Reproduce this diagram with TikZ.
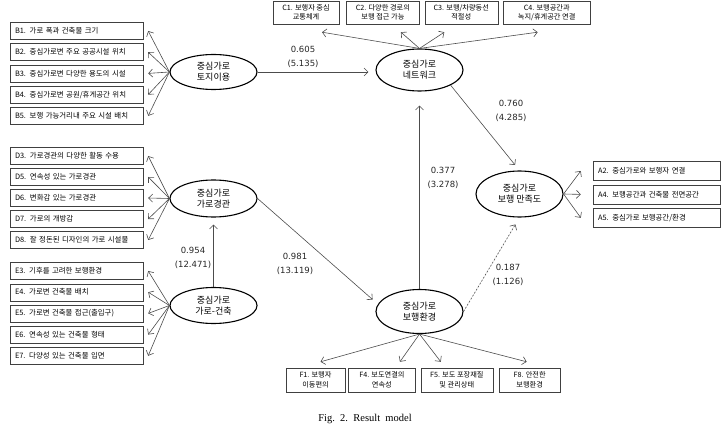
\documentclass[tikz,border=0pt]{standalone}
\usepackage{fontspec}
\setmainfont{Liberation Serif}
\newfontfamily\kr{Noto Sans CJK KR}
\newfontfamily\numfont{DejaVu Sans}
\usetikzlibrary{shapes.geometric, positioning, arrows.meta, calc}
\tikzset{
  latent/.style={ellipse, draw=black, line width=1.1pt, minimum width=87pt, minimum height=38pt, inner sep=0pt, align=center, font=\kr\fontsize{9}{11}\selectfont},
  indic/.style={rectangle, draw=black!75, minimum height=17pt, text width=123pt, inner xsep=5pt, inner ysep=0pt, align=left, font=\kr\fontsize{7.4}{8}\selectfont},
  satindic/.style={indic, text width=117pt, minimum height=19pt},
  twoline/.style={rectangle, draw=black!75, minimum height=23pt, inner xsep=1pt, inner ysep=0pt, align=center, font=\kr\fontsize{7.2}{9.5}\selectfont},
  coef/.style={align=center, font=\numfont\fontsize{8.5}{14}\selectfont, text=black!85},
  arrow/.style={draw=black!70, line width=0.6pt, -{Straight Barb[length=4pt, width=8pt]}}
}

\begin{document}
\begin{tikzpicture}[x=1pt, y=-1pt]
    \useasboundingbox (0,0) rectangle (725,430);

    % 잠재변수
    \node (land)  [latent, minimum height=35pt] at (213.5,72) {중심가로\\토지이용};
    \node (net)   [latent, minimum height=42pt] at (419.5,70) {중심가로\\네트워크};
    \node (scape) [latent, minimum height=37pt] at (213.5,198.5) {중심가로\\가로경관};
    \node (bldg)  [latent, minimum height=36pt] at (213.5,305.5) {중심가로\\가로-건축};
    \node (walk)  [latent, minimum height=44pt] at (419.5,311.5) {중심가로\\보행환경};
    \node (sat)   [latent, minimum height=46pt] at (519.5,194) {중심가로\\보행 만족도};

    % 토지이용 항목
    \node (b1) [indic] at (76.5,31) {B1. 가로 폭과 건축물 크기};
    \node (b2) [indic, below=3.8pt of b1] {B2. 중심가로변 주요 공공시설 위치};
    \node (b3) [indic, below=3.8pt of b2] {B3. 중심가로변 다양한 용도의 시설};
    \node (b4) [indic, below=3.8pt of b3] {B4. 중심가로변 공원/휴게공간 위치};
    \node (b5) [indic, below=3.8pt of b4] {B5. 보행 가능거리내 주요 시설 배치};

    % 가로경관 항목
    \node (d3) [indic] at (76.5,156) {D3. 가로경관의 다양한 활동 수용};
    \node (d5) [indic, below=3.6pt of d3] {D5. 연속성 있는 가로경관};
    \node (d6) [indic, below=3.6pt of d5] {D6. 변화감 있는 가로경관};
    \node (d7) [indic, below=3.6pt of d6] {D7. 가로의 개방감};
    \node (d8) [indic, below=3.6pt of d7] {D8. 잘 정돈된 디자인의 가로 시설물};

    % 가로-건축 항목
    \node (e3) [indic] at (76.5,271) {E3. 기후를 고려한 보행환경};
    \node (e4) [indic, below=3.8pt of e3] {E4. 가로변 건축물 배치};
    \node (e5) [indic, below=3.8pt of e4] {E5. 가로변 건축물 접근(출입구)};
    \node (e6) [indic, below=3.8pt of e5] {E6. 연속성 있는 건축물 형태};
    \node (e7) [indic, below=3.8pt of e6] {E7. 다양성 있는 건축물 입면};

    % 네트워크 항목
    \node (c1) [twoline, minimum width=66pt] at (306,12.5) {C1. 보행자 중심\\교통체계};
    \node (c2) [twoline, minimum width=73pt, right=7pt of c1] {C2. 다양한 경로의\\보행 접근 가능};
    \node (c3) [twoline, minimum width=73pt, right=5pt of c2] {C3. 보행/차량동선\\적절성};
    \node (c4) [twoline, minimum width=87pt, right=5pt of c3] {C4. 보행공간과\\녹지/휴게공간 연결};

    % 만족도 항목
    \node (a2) [satindic] at (656.5,171) {A2. 중심가로와 보행자 연결};
    \node (a4) [satindic, below=4pt of a2] {A4. 보행공간과 건축물 전면공간};
    \node (a5) [satindic, below=4pt of a4] {A5. 중심가로 보행공간/환경};

    % 보행환경 항목
    \node (f1) [twoline, minimum width=59pt, minimum height=24pt] at (315.5,380) {F1. 보행자\\이동편의};
    \node (f4) [twoline, minimum width=67pt, minimum height=24pt, right=3pt of f1] {F4. 보도연결의\\연속성};
    \node (f5) [twoline, minimum width=72pt, minimum height=24pt, right=5pt of f4] {F5. 보도 포장재질\\및 관리상태};
    \node (f8) [twoline, minimum width=61pt, minimum height=24pt, right=6pt of f5] {F8. 안전한\\보행환경};

    % 경로계수
    \node (k1) [coef] at (303,57) {0.605\\(5.135)};
    \node (k2) [coef] at (511,111) {0.760\\(4.285)};
    \node (k3) [coef] at (443,178) {0.377\\(3.278)};
    \node (k4) [coef] at (193,258) {0.954\\(12.471)};
    \node (k5) [coef] at (295,264) {0.981\\(13.119)};
    \node (k6) [coef] at (508,275) {0.187\\(1.126)};

    \node (cap) at (365,419) {\fontsize{10.5}{12}\selectfont Fig.\ \ 2.\ \ Result\ \ model};

    % 화살표
    \foreach \b in {b1,b2,b3,b4,b5}
      \draw [arrow] (land.west) -- ($(\b.east)+(5,0)$);
    \foreach \d in {d3,d5,d6,d7,d8}
      \draw [arrow] (scape.west) -- ($(\d.east)+(5,0)$);
    \foreach \e in {e3,e4,e5,e6,e7}
      \draw [arrow] (bldg.west) -- ($(\e.east)+(5,0)$);
    \foreach \a in {a2,a4,a5}
      \draw [arrow] (sat.east) -- ($(\a.west)+(-12,0)$);
    \foreach \c/\dx in {c1/16,c2/18,c3/-17,c4/-9}
      \draw [arrow] (net.north) -- ($(\c.south)+(\dx,8)$);
    \foreach \f/\dx in {f1/5,f4/18,f5/-16,f8/-3}
      \draw [arrow] (walk.south) -- ($(\f.north)+(\dx,-6)$);

    \draw [arrow, shorten >=7pt] (land.east) -- (land.east -| net.west);
    \draw [arrow, shorten >=7pt] (bldg.north) -- (scape.south);
    \draw [arrow, shorten >=7pt] (scape.east) -- (walk.170);
    \draw [arrow, shorten >=14pt] (walk.north) -- (net.south);
    \draw [arrow, shorten >=7pt] (net.south east) -- (sat.north);
    \draw [arrow, shorten >=8pt, dash pattern=on 2pt off 1.5pt] (walk.east) -- (sat.south);

\end{tikzpicture}
\end{document}
